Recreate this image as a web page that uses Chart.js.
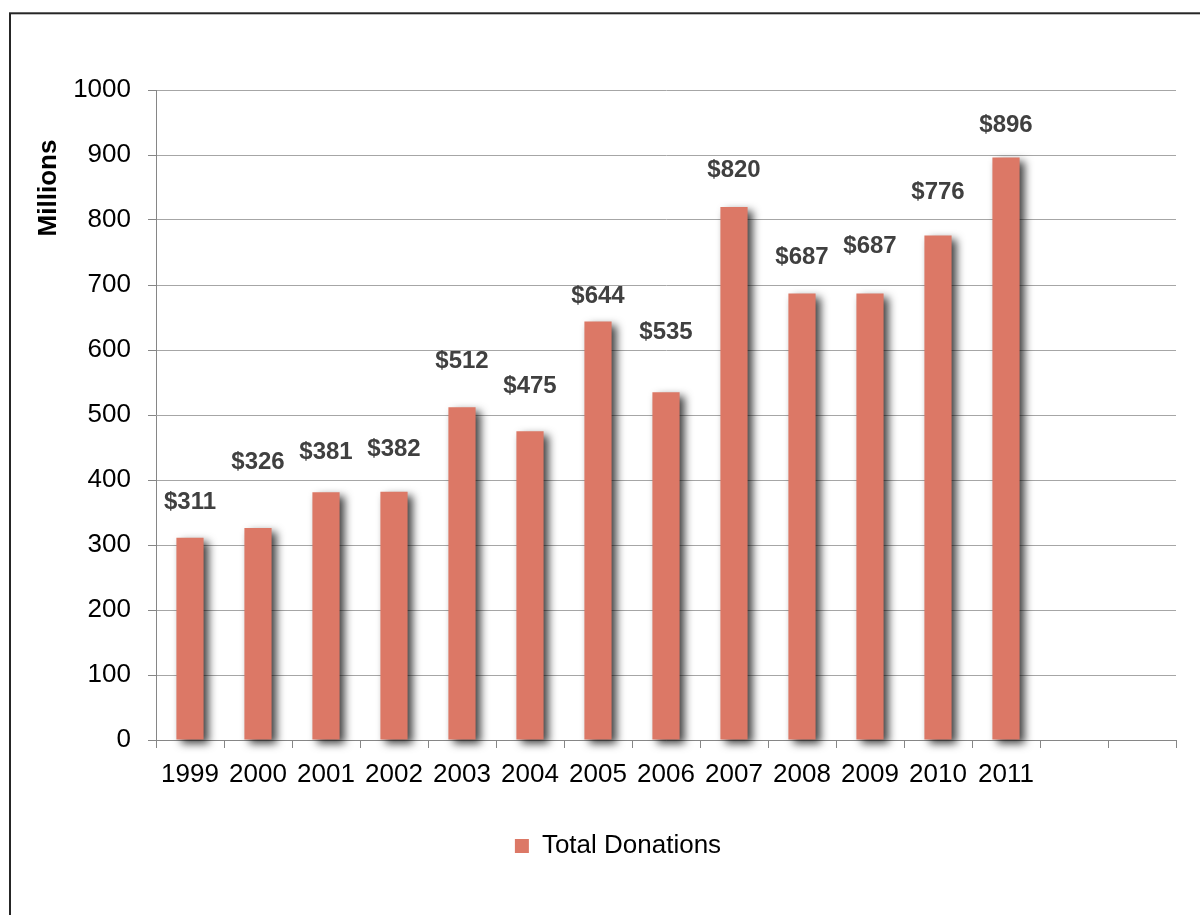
<!DOCTYPE html>
<html><head><meta charset="utf-8">
<script src="https://cdn.jsdelivr.net/npm/chart.js@4/dist/chart.umd.min.js"></script>
<style>html,body{margin:0;padding:0;background:#fff;} canvas{display:block;}</style>
</head><body>
<canvas id="c" width="1200" height="915"></canvas>
<script>
// ---- data ----
const categories = ['1999','2000','2001','2002','2003','2004','2005','2006','2007','2008','2009','2010','2011','',''];
const donations  = [311, 326, 381, 382, 512, 475, 644, 535, 820, 687, 687, 776, 896, null, null];
const seriesName = 'Total Donations';
const axisTitle  = 'Millions';
const yMin = 0, yMax = 1000, yStep = 100;

// ---- styling ----
const FONT = '"Liberation Sans", Arial, sans-serif';
const labelLift = [35, 66, 40, 42, 46, 45, 25, 60, 37, 36, 47, 43, 32]; // px above bar top for value labels

const framePlugin = {
  id: 'frame',
  afterDraw(chart) {
    const c = chart.ctx; c.save();
    c.strokeStyle = '#262626'; c.lineWidth = 2;
    c.strokeRect(10, 13.3, 1400, 1100);
    c.restore();
  }
};
const shadowPlugin = {
  id: 'barShadow',
  beforeDatasetsDraw(chart) {
    const c = chart.ctx; c.save();
    c.shadowColor = 'rgba(0,0,0,0.75)';
    c.shadowBlur = 9; c.shadowOffsetX = 5; c.shadowOffsetY = 4;
  },
  afterDatasetsDraw(chart) { chart.ctx.restore(); }
};
const valueLabelPlugin = {
  id: 'valueLabels',
  afterDatasetsDraw(chart) {
    const c = chart.ctx, meta = chart.getDatasetMeta(0);
    c.save();
    c.font = 'bold 24px ' + FONT; c.fillStyle = '#404040';
    c.textAlign = 'center'; c.textBaseline = 'middle';
    meta.data.forEach((bar, i) => {
      const v = donations[i];
      if (v == null) return;
      c.fillText('$' + v, bar.x, bar.y - labelLift[i]);
    });
    c.restore();
  }
};
const yTitlePlugin = {
  id: 'yTitle',
  afterDraw(chart) {
    const c = chart.ctx; c.save();
    c.translate(49, 188); c.rotate(-Math.PI / 2);
    c.font = 'bold 26px ' + FONT; c.fillStyle = '#000';
    c.textAlign = 'center'; c.textBaseline = 'middle';
    c.fillText(axisTitle, 0, 0);
    c.restore();
  }
};

new Chart(document.getElementById('c'), {
  type: 'bar',
  data: {
    labels: categories,
    datasets: [{
      label: seriesName,
      data: donations,
      backgroundColor: '#DC7866',
      borderWidth: 0,
      barPercentage: 0.4,
      categoryPercentage: 1.0,
      clip: false
    }]
  },
  plugins: [framePlugin, shadowPlugin, valueLabelPlugin, yTitlePlugin],
  options: {
    responsive: false, animation: false, devicePixelRatio: 1,
    layout: { padding: { left: 60, right: 24, top: 90, bottom: 46 } },
    plugins: {
      legend: {
        position: 'bottom',
        labels: { font: { family: FONT, size: 26 }, color: '#000', boxWidth: 14, boxHeight: 14, padding: 10 }
      },
      tooltip: { enabled: false }
    },
    scales: {
      x: {
        grid: { display: true, drawOnChartArea: false, drawTicks: true, tickLength: 8, color: '#868686', offset: true },
        border: { display: true, color: '#868686' },
        ticks: { font: { family: FONT, size: 26 }, color: '#000', padding: 11, maxRotation: 0, autoSkip: false },
        afterFit(s) { s.height = 83; }
      },
      y: {
        min: yMin, max: yMax,
        ticks: { stepSize: yStep, font: { family: FONT, size: 26 }, color: '#000', padding: 17,
                 callback: (v) => String(v) },
        grid: { color: '#A6A6A6', tickLength: 8, tickColor: '#868686' },
        border: { display: true, color: '#868686' },
        afterFit(s) { s.width = 96; }
      }
    }
  }
});
</script>
</body></html>
